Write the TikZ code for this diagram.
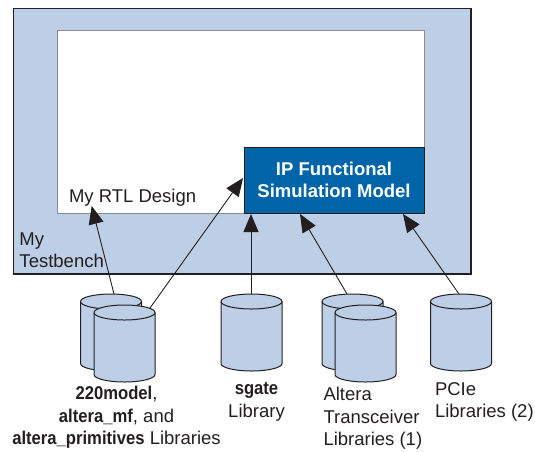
\documentclass[tikz,border=0pt]{standalone}
\usepackage{fontspec}
\setmainfont{Liberation Sans}
\newfontfamily\narrowbold[FakeStretch=0.90,BoldFont={Liberation Sans Bold}]{Liberation Sans Bold}
\usetikzlibrary{arrows.meta}
\definecolor{lightblue}{HTML}{BDCFE6}
\definecolor{ipblue}{HTML}{0065A8}
\definecolor{ink}{HTML}{231F20}
\newcommand{\nb}[1]{{\narrowbold #1}}
\tikzset{
  x=1pt,y=-1pt,
  libhull/.style={minimum width=61pt,minimum height=77pt,inner sep=0pt,outer sep=0pt,anchor=north},
  libshape/.style={draw=ink,fill=lightblue,line width=1pt,line join=round},
  link/.style={draw=ink,line width=0.9pt,-{Triangle[length=18pt,width=15pt]}},
  label/.style={font=\fontsize{18.5pt}{22.5pt}\selectfont,text=ink,inner sep=0pt,outer sep=0pt},
  box/.style={inner sep=0pt,outer sep=0pt}
}
\newcommand{\libcyl}[3]{%
  \node[libhull] (#1) at (#2,#3) {};
  \draw[libshape] ([yshift=-7.5pt]#1.north west) -- ([yshift=7.5pt]#1.south west)
    arc[start angle=180,end angle=360,x radius=30.5pt,y radius=7.5pt]
    -- ([yshift=-7.5pt]#1.north east)
    arc[start angle=0,end angle=180,x radius=30.5pt,y radius=7.5pt] -- cycle;
  \draw[libshape,fill=none] ([yshift=-7.5pt]#1.north west)
    arc[start angle=180,end angle=360,x radius=30.5pt,y radius=7.5pt];
}
\begin{document}
\begin{tikzpicture}
\useasboundingbox (0,0) rectangle (535,451);
\node[box,draw=ink,line width=1.2pt,fill=lightblue,minimum width=457.5pt,minimum height=265.5pt,anchor=north west] (bench) at (13.5,8.5) {};
\node[box,draw=black!45,line width=1pt,fill=white,minimum width=366.5pt,minimum height=183pt,anchor=north west] (rtl) at (57.5,30) {};
\node[box,draw=ink,line width=1pt,fill=ipblue,minimum width=180pt,minimum height=66pt,anchor=north west,
  align=center,text=white,font=\fontsize{18.5pt}{22.5pt}\selectfont\bfseries] (ip) at (244,147) {IP Functional\\Simulation Model};
\node[label,anchor=base west] (rtllabel) at (69,202) {My RTL Design};
\node[label,anchor=north west,align=left] (tb) at (19.5,232.6) {My\\Testbench};

\libcyl{a1}{111}{294}
\libcyl{a2}{124.5}{305}
\libcyl{b}{251.5}{294}
\libcyl{c1}{352.5}{294}
\libcyl{c2}{365.5}{305}
\libcyl{d}{461}{294}

\coordinate (t1) at (91.7,206);
\coordinate (t2) at (243,178);
\coordinate (t3) at (251,214);
\coordinate (t4) at (300,214);
\coordinate (t5) at (403,214);
\coordinate (s1) at (114,294);
\coordinate (s2) at (150,308);
\coordinate (s4) at (347,294);
\coordinate (s5) at (459,294);
\draw[link] (s1) -- (t1);
\draw[link] (s2) -- (t2);
\draw[link] (b.north-|t3) -- (t3);
\draw[link] (s4) -- (t4);
\draw[link] (s5) -- (t5);

\node[label,anchor=north,align=center] (la) at (116.5,386.5) {\nb{220model},\\\nb{altera\_mf}, and\\\nb{altera\_primitives} Libraries};
\node[label,anchor=north,align=center] (lb) at (256.5,382.5) {\nb{sgate}\\Library};
\node[label,anchor=north west,align=left] (lc) at (323.5,387.5) {Altera\\Transceiver\\Libraries (1)};
\node[label,anchor=north west,align=left] (ld) at (435,382.5) {PCIe\\Libraries (2)};
\end{tikzpicture}
\end{document}
